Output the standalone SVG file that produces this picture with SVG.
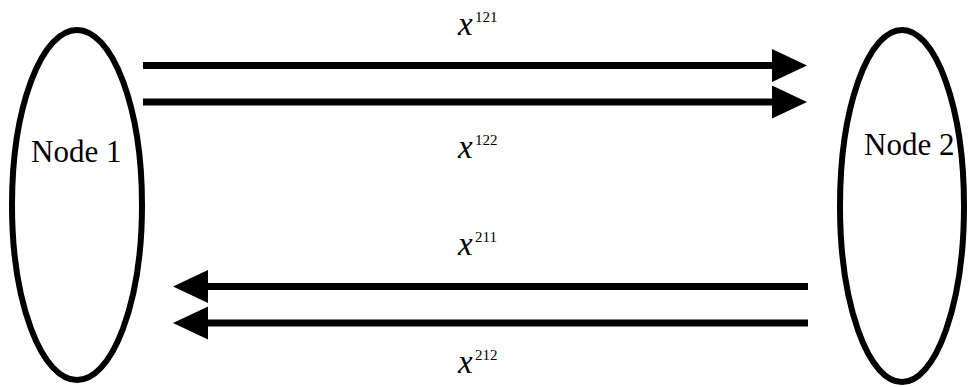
<svg xmlns="http://www.w3.org/2000/svg" width="968" height="387" viewBox="0 0 968 387">
  <style>
    .node { fill: none; stroke: #000; stroke-width: 6; }
    .flow { stroke: #000; stroke-width: 7; fill: none; }
    text { font-family: 'Liberation Serif', 'Times New Roman', Times, serif; fill: #000; }
    .name { font-size: 31px; }
    .var { font-style: italic; font-size: 33px; }
    .sup { font-size: 15px; }
  </style>
  <defs>
    <marker id="head" markerUnits="userSpaceOnUse" markerWidth="36" markerHeight="34" refX="0" refY="16.5" orient="auto">
      <path d="M0,0 L35,16.5 L0,33 Z" fill="#000"/>
    </marker>
  </defs>
  <rect width="968" height="387" fill="#fff"/>

  <g id="node1">
    <ellipse class="node" cx="77" cy="205" rx="65" ry="175"/>
    <text class="name" x="31" y="162">Node 1</text>
  </g>

  <g id="node2">
    <ellipse class="node" cx="902" cy="206" rx="62" ry="176"/>
    <text class="name" x="864" y="155">Node 2</text>
  </g>

  <g id="connectors">
    <line class="flow" x1="143" y1="65.5" x2="772" y2="65.5" marker-end="url(#head)"/>
    <line class="flow" x1="143" y1="102" x2="772" y2="102" marker-end="url(#head)"/>
    <line class="flow" x1="808" y1="286.5" x2="208" y2="286.5" marker-end="url(#head)"/>
    <line class="flow" x1="808" y1="323" x2="208" y2="323" marker-end="url(#head)"/>
  </g>

  <g id="labels">
    <text class="var" x="458" y="35">x</text>
    <text class="sup" x="475" y="22">121</text>
    <text class="var" x="458" y="158">x</text>
    <text class="sup" x="475" y="145">122</text>
    <text class="var" x="458" y="255">x</text>
    <text class="sup" x="475" y="242">211</text>
    <text class="var" x="458" y="373">x</text>
    <text class="sup" x="475" y="360">212</text>
  </g>
</svg>
